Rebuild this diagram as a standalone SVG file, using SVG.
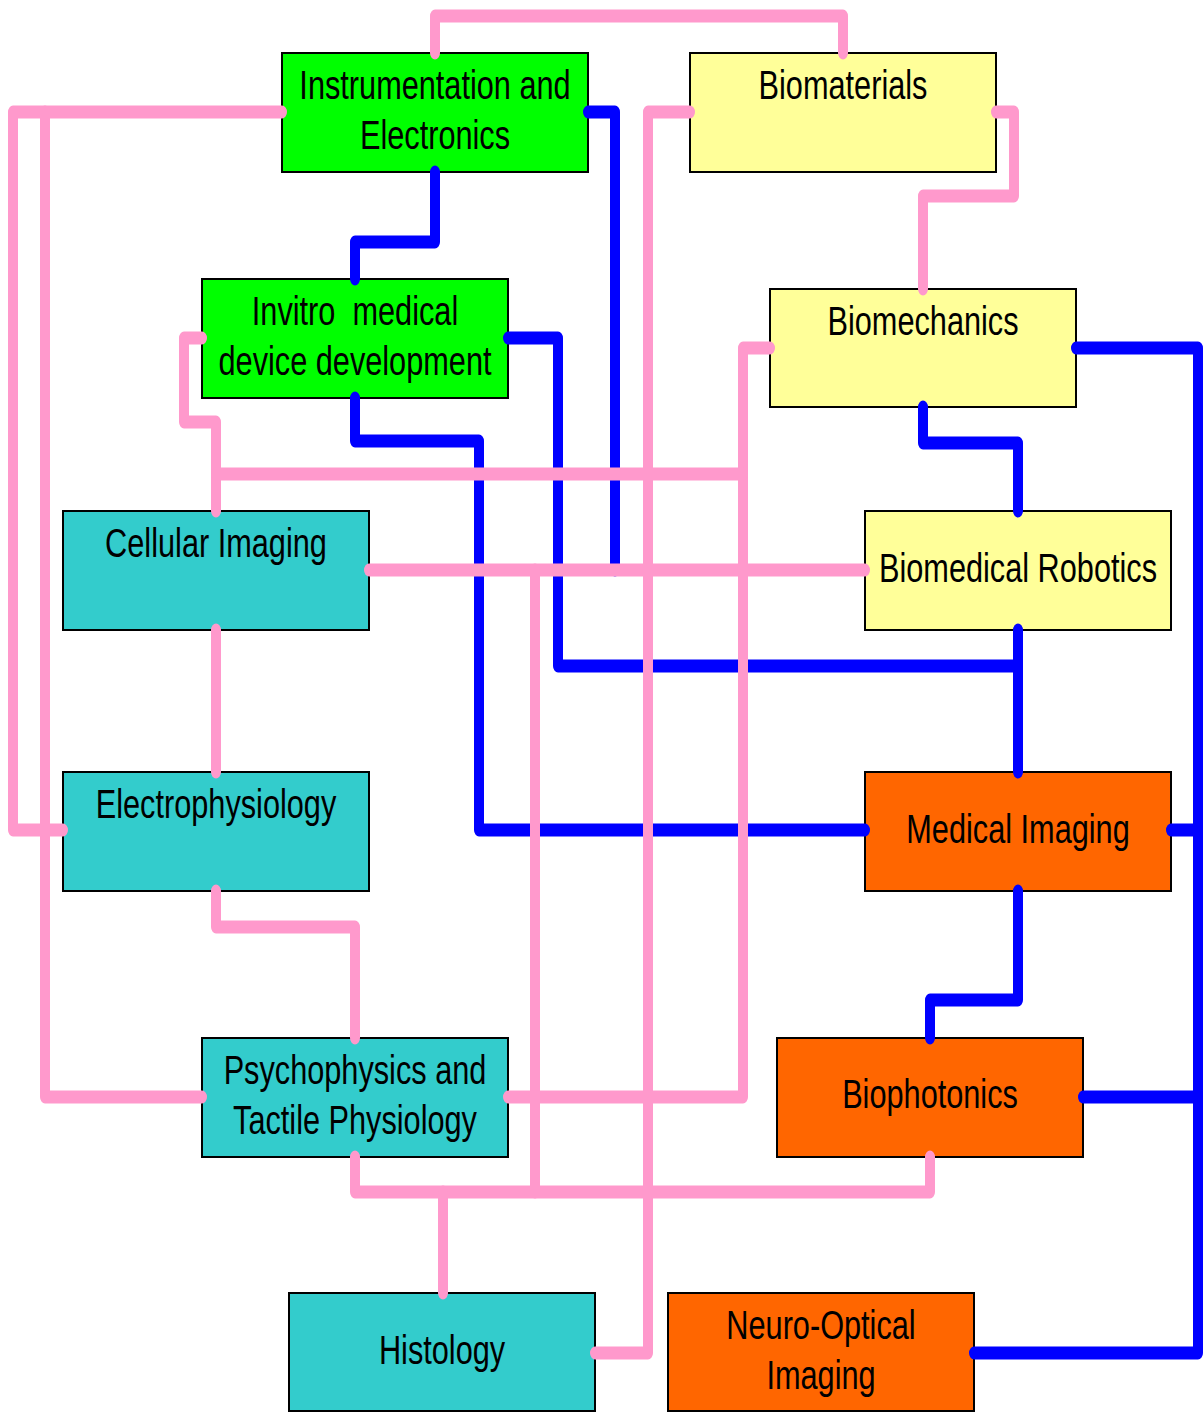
<svg xmlns="http://www.w3.org/2000/svg" width="1204" height="1413" viewBox="0 0 1204 1413">
<style>
.box{stroke:#000;stroke-width:2}
.g{fill:#00FF00}.y{fill:#FFFF99}.c{fill:#33CCCC}.o{fill:#FF6600}
.t{font-family:"Liberation Sans",Arial,sans-serif;font-size:30.7px;text-anchor:middle;fill:#000;white-space:pre}
.p{fill:none;stroke:#FF99CC;stroke-width:10;stroke-linecap:round;stroke-linejoin:round}
.b{fill:none;stroke:#0000FF;stroke-width:10;stroke-linecap:round;stroke-linejoin:round}
</style>
<rect width="1204" height="1413" fill="#fff"/>
<g id="instrumentation">
<rect class="box g" x="282" y="53" width="306" height="119"/>
<text class="t" transform="translate(435,99) scale(1,1.3)">Instrumentation and</text>
<text class="t" transform="translate(435,149) scale(1,1.3)">Electronics</text>
</g>
<g id="biomaterials">
<rect class="box y" x="690" y="53" width="306" height="119"/>
<text class="t" transform="translate(843,99) scale(1,1.3)">Biomaterials</text>
</g>
<g id="invitro">
<rect class="box g" x="202" y="279" width="306" height="119"/>
<text class="t" xml:space="preserve" transform="translate(355,325) scale(1,1.3)">Invitro  medical</text>
<text class="t" transform="translate(355,375) scale(1,1.3)">device development</text>
</g>
<g id="biomechanics">
<rect class="box y" x="770" y="289" width="306" height="118"/>
<text class="t" transform="translate(923,335) scale(1,1.3)">Biomechanics</text>
</g>
<g id="cellular-imaging">
<rect class="box c" x="63" y="511" width="306" height="119"/>
<text class="t" transform="translate(216,557) scale(1,1.3)">Cellular Imaging</text>
</g>
<g id="biomedical-robotics">
<rect class="box y" x="865" y="511" width="306" height="119"/>
<text class="t" transform="translate(1018,582) scale(1,1.3)">Biomedical Robotics</text>
</g>
<g id="electrophysiology">
<rect class="box c" x="63" y="772" width="306" height="119"/>
<text class="t" transform="translate(216,818) scale(1,1.3)">Electrophysiology</text>
</g>
<g id="medical-imaging">
<rect class="box o" x="865" y="772" width="306" height="119"/>
<text class="t" transform="translate(1018,843) scale(1,1.3)">Medical Imaging</text>
</g>
<g id="psychophysics">
<rect class="box c" x="202" y="1038" width="306" height="119"/>
<text class="t" transform="translate(355,1084) scale(1,1.3)">Psychophysics and</text>
<text class="t" transform="translate(355,1134) scale(1,1.3)">Tactile Physiology</text>
</g>
<g id="biophotonics">
<rect class="box o" x="777" y="1038" width="306" height="119"/>
<text class="t" transform="translate(930,1108) scale(1,1.3)">Biophotonics</text>
</g>
<g id="histology">
<rect class="box c" x="289" y="1293" width="306" height="118"/>
<text class="t" transform="translate(442,1364) scale(1,1.3)">Histology</text>
</g>
<g id="neuro-optical">
<rect class="box o" x="668" y="1293" width="306" height="118"/>
<text class="t" transform="translate(821,1339) scale(1,1.3)">Neuro-Optical</text>
<text class="t" transform="translate(821,1389) scale(1,1.3)">Imaging</text>
</g>
<g id="connectors" transform="scale(1,1.3)">
<path class="b" d="M588,86.15 H615 V438.46"/>
<path class="b" d="M435,132.31 V186.15 H355 V214.62"/>
<path class="b" d="M508,260 H558 V512.31 H1018"/>
<path class="b" d="M1018,484.62 V593.85"/>
<path class="b" d="M355,306.15 V339.23 H479 V638.46 H865"/>
<path class="b" d="M923,313.08 V340.77 H1018 V393.08"/>
<path class="b" d="M1076,267.69 H1198 V1040.77 H974"/>
<path class="b" d="M1171,638.46 H1198"/>
<path class="b" d="M1083,843.85 H1198"/>
<path class="b" d="M1018,685.38 V769.23 H930 V798.46"/>
<path class="p" d="M435,40.77 V12.31 H843 V40.77"/>
<path class="p" d="M282,86.15 H13 V638.46 H63"/>
<path class="p" d="M45,86.15 V843.85 H202"/>
<path class="p" d="M690,86.15 H648 V1040.77 H595"/>
<path class="p" d="M996,86.15 H1014 V150.77 H923 V222.31"/>
<path class="p" d="M770,267.69 H743 V843.85 H508"/>
<path class="p" d="M202,260 H184 V324.62 H216 V393.08"/>
<path class="p" d="M216,364.62 H743"/>
<path class="p" d="M369,438.46 H865"/>
<path class="p" d="M535,438.46 V916.92"/>
<path class="p" d="M355,890 V916.92 H930 V890"/>
<path class="p" d="M443,916.92 V994.62"/>
<path class="p" d="M216,484.62 V593.85"/>
<path class="p" d="M216,685.38 V713.08 H355 V798.46"/>
</g>
</svg>
